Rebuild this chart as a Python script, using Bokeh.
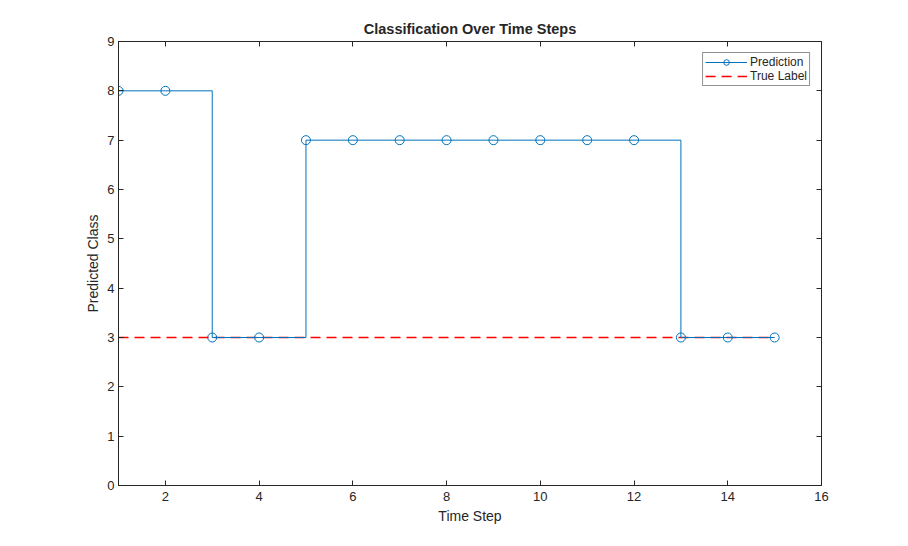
from bokeh.plotting import figure
from bokeh.models import Range1d, LinearAxis, FixedTicker, Legend, LegendItem
from bokeh.embed import file_html
from bokeh.resources import INLINE

time_steps = [1, 2, 3, 4, 5, 6, 7, 8, 9, 10, 11, 12, 13, 14, 15]
predicted = [8, 8, 3, 3, 7, 7, 7, 7, 7, 7, 7, 7, 3, 3, 3]
true_label = [3, 3, 3, 3, 3, 3, 3, 3, 3, 3, 3, 3, 3, 3, 3]
x_ticks = [2, 4, 6, 8, 10, 12, 14, 16]
y_ticks = [0, 1, 2, 3, 4, 5, 6, 7, 8, 9]

FONT = "Liberation Sans"
AX = "#262626"
BLUE = "#0072BD"
RED = "#FF0000"

p = figure(width=892, height=530, output_backend="svg", toolbar_location=None,
           x_range=Range1d(1, 16), y_range=Range1d(0, 9),
           min_border_left=118, min_border_right=71, min_border_top=41, min_border_bottom=45)

p.title.text = "Classification Over Time Steps"
p.title.align = "center"
p.title.text_font = FONT
p.title.text_font_size = "14.5px"
p.title.text_color = AX
p.title.offset = 0

p.grid.visible = False
p.outline_line_color = AX
p.outline_line_width = 1
p.background_fill_color = "white"
p.border_fill_color = "white"


def style_axis(ax, labels=True):
    ax.axis_line_color = AX
    ax.major_tick_line_color = AX
    ax.minor_tick_line_color = None
    ax.major_tick_in = 5
    ax.major_tick_out = 0
    ax.major_label_text_font = FONT
    ax.major_label_text_font_size = "13px"
    ax.major_label_text_color = AX
    ax.axis_label_text_font = FONT
    ax.axis_label_text_font_size = "14px"
    ax.axis_label_text_font_style = "normal"
    ax.axis_label_text_color = AX
    if not labels:
        ax.major_label_text_font_size = "0px"
        ax.major_label_text_color = None


p.xaxis.ticker = FixedTicker(ticks=x_ticks)
p.yaxis.ticker = FixedTicker(ticks=y_ticks)
p.xaxis.axis_label = "Time Step"
p.yaxis.axis_label = "Predicted Class"
p.xaxis.major_label_standoff = 6
p.xaxis.axis_label_standoff = 4
p.yaxis.major_label_standoff = 4
p.yaxis.axis_label_standoff = 3
style_axis(p.xaxis[0])
style_axis(p.yaxis[0])

top = LinearAxis(ticker=FixedTicker(ticks=x_ticks))
right = LinearAxis(ticker=FixedTicker(ticks=y_ticks))
style_axis(top, labels=False)
style_axis(right, labels=False)
p.add_layout(top, "above")
p.add_layout(right, "right")

truth = p.line(x=time_steps, y=true_label, line_color=RED, line_width=1.5, line_dash="10 6")
stairs = p.step(x=time_steps, y=predicted, mode="after", line_color=BLUE, line_width=1)
marks = p.scatter(x=time_steps, y=predicted, marker="circle", size=9, fill_color=None,
                  line_color=BLUE, line_width=1)

legend = Legend(items=[
    LegendItem(label="Prediction", renderers=[stairs, marks]),
    LegendItem(label="True Label", renderers=[truth]),
], location="top_right")
legend.label_text_font = FONT
legend.label_text_font_size = "12px"
legend.label_text_color = AX
legend.label_standoff = 3
legend.glyph_width = 42
legend.glyph_height = 14
legend.label_height = 14
legend.spacing = 0
legend.padding = 2
legend.margin = 11
legend.border_line_color = AX
legend.border_line_width = 1
legend.background_fill_alpha = 1
p.add_layout(legend, "center")

open("out.html", "w").write(file_html(p, INLINE))
